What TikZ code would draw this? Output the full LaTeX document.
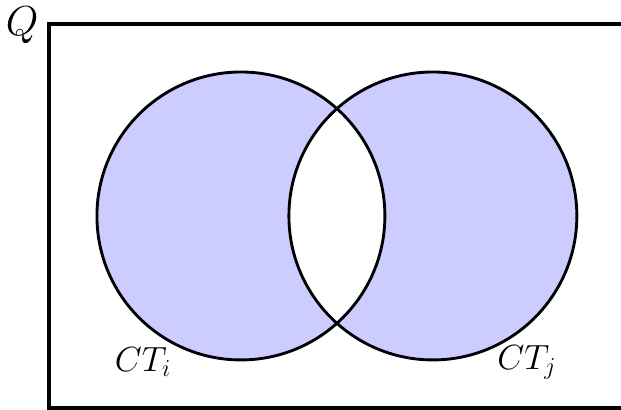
\documentclass[tikz,border=0pt]{standalone}
\begin{document}
\begin{tikzpicture}[scale=1]
        \useasboundingbox (-5.02, -4.04) rectangle (7.92, 4.5);
        % shaded symmetric difference
        \fill[blue!20, even odd rule] (0, 0) circle (3) (4, 0) circle (3);
        % Draw the circles
        \draw[line width=1.7pt] (0, 0) circle (3);
        \draw[line width=1.7pt] (4, 0) circle (3);
        % Draw the frame
        \draw[line width=2pt] (-4, -4) rectangle (12, 4);
        % labels
        \node (q) at (-4.56, 3.98) {\Huge $Q$};
        \node (cti) at (-2.04, -3.05) {\huge $CT_i$};
        \node (ctj) at (5.96, -3.05) {\huge $CT_j$};
    \end{tikzpicture}
\end{document}
